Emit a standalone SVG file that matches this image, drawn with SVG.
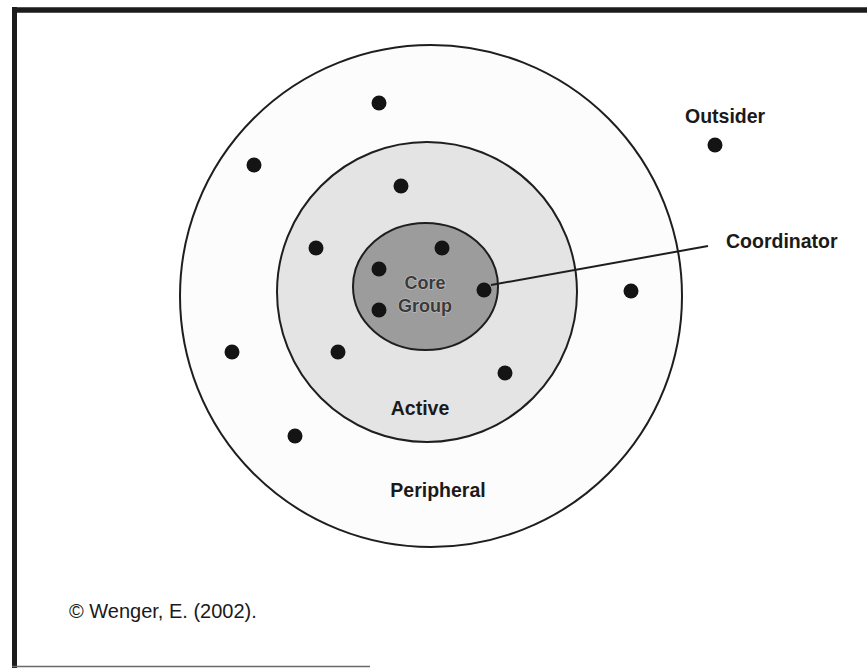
<svg xmlns="http://www.w3.org/2000/svg" width="867" height="668" viewBox="0 0 867 668">
  <style>
    .ring { stroke: #1e1e1e; stroke-width: 2; }
    .member { fill: #141414; }
    .label { font-family: "Liberation Sans", Arial, sans-serif; font-weight: bold; font-size: 19.5px; fill: #1a1a1a; }
    .core-label { font-family: "Liberation Sans", Arial, sans-serif; font-weight: bold; font-size: 18px; fill: #3a3a3a; stroke: #c4c4c4; stroke-width: 1.2; paint-order: stroke; }
    .credit { font-family: "Liberation Sans", Arial, sans-serif; font-size: 20px; fill: #1a1a1a; }
  </style>

  <!-- page background and frame -->
  <rect width="867" height="668" fill="#ffffff"/>
  <g id="frame" fill="none" stroke="#1c1c1c">
    <line x1="14.5" y1="7" x2="14.5" y2="668" stroke-width="5"/>
    <line x1="12" y1="10" x2="867" y2="10" stroke-width="5.5"/>
    <line x1="12" y1="666.5" x2="370" y2="666.5" stroke-width="1.5" stroke="#6a6a6a"/>
  </g>

  <!-- concentric zones -->
  <g id="peripheral">
    <circle class="ring" cx="431" cy="296" r="251" fill="#fcfcfc"/>
    <text class="label" x="438" y="497" text-anchor="middle">Peripheral</text>
  </g>
  <g id="active">
    <circle class="ring" cx="427" cy="292" r="150" fill="#e4e4e4"/>
    <text class="label" x="420" y="415" text-anchor="middle">Active</text>
  </g>
  <g id="core-group">
    <ellipse class="ring" cx="425.5" cy="286.5" rx="72.5" ry="63.5" fill="#9c9c9c"/>
    <text class="core-label" x="425" y="289" text-anchor="middle">Core</text>
    <text class="core-label" x="425" y="312" text-anchor="middle">Group</text>
  </g>

  <!-- connector from the coordinator to its label -->
  <g id="connectors">
    <line x1="491" y1="285" x2="708" y2="246" stroke="#1e1e1e" stroke-width="2"/>
  </g>

  <!-- community members -->
  <g id="members">
    <circle class="member" cx="379" cy="103" r="7.5"/>
    <circle class="member" cx="254" cy="165" r="7.5"/>
    <circle class="member" cx="401" cy="186" r="7.5"/>
    <circle class="member" cx="316" cy="248" r="7.5"/>
    <circle class="member" cx="442" cy="248" r="7.5"/>
    <circle class="member" cx="379" cy="269" r="7.5"/>
    <circle class="member" cx="484" cy="290" r="7.5"/>
    <circle class="member" cx="379" cy="310" r="7.5"/>
    <circle class="member" cx="631" cy="291" r="7.5"/>
    <circle class="member" cx="232" cy="352" r="7.5"/>
    <circle class="member" cx="338" cy="352" r="7.5"/>
    <circle class="member" cx="505" cy="373" r="7.5"/>
    <circle class="member" cx="295" cy="436" r="7.5"/>
  </g>

  <g id="outsider">
    <circle class="member" cx="715" cy="145" r="7.5"/>
    <text class="label" x="685" y="123">Outsider</text>
  </g>

  <g id="coordinator">
    <text class="label" x="726" y="248">Coordinator</text>
  </g>

  <g id="credit">
    <text class="credit" x="69" y="618">© Wenger, E. (2002).</text>
  </g>
</svg>
